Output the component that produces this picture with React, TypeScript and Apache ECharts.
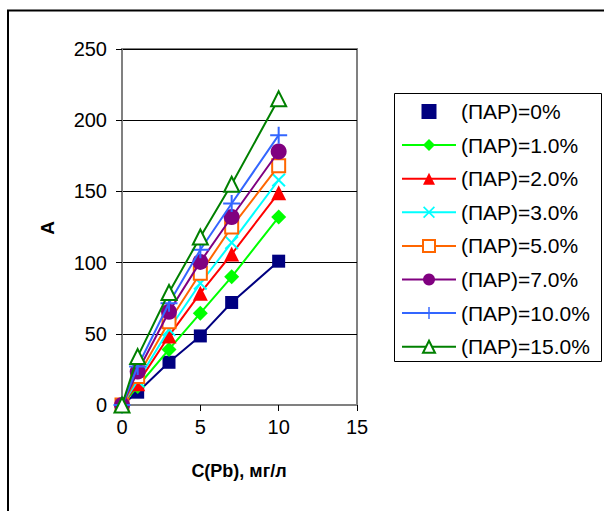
import React, { useEffect, useRef } from "react";
import * as echarts from "echarts";

const xValues = [0, 1, 3, 5, 7, 10];
const seriesNames = [
  "(ПАР)=0%",
  "(ПАР)=1.0%",
  "(ПАР)=2.0%",
  "(ПАР)=3.0%",
  "(ПАР)=5.0%",
  "(ПАР)=7.0%",
  "(ПАР)=10.0%",
  "(ПАР)=15.0%",
];
const s0 = [0, 9, 30, 48.5, 72, 101];
const s1 = [0, 13, 39, 64.5, 90, 132];
const s2 = [0, 15, 48.5, 78.5, 106, 149];
const s3 = [0, 17, 53, 85.5, 114, 158];
const s4 = [0, 20, 58.5, 92.5, 125, 168];
const s5 = [0, 23.5, 65.5, 100.5, 132, 178];
const s6 = [0, 27, 71.5, 109, 141.5, 189.5];
const s7 = [0, 34, 79, 118, 155, 215];
const seriesValues = [s0, s1, s2, s3, s4, s5, s6, s7];
const xTicks = { min: 0, max: 15, interval: 5 };
const yTicks = { min: 0, max: 250, interval: 50 };

const X_PATH = "path://M0,1L1,0L5,4L9,0L10,1L6,5L10,9L9,10L5,6L1,10L0,9L4,5Z";
const PLUS_PATH = "path://M4.4,0H5.6V4.4H10V5.6H5.6V10H4.4V5.6H0V4.4H4.4Z";

const styles = [
  { color: "#000080", symbol: "rect", size: 13, fill: "#000080" },
  { color: "#00FF00", symbol: "diamond", size: 15, fill: "#00FF00" },
  { color: "#FF0000", symbol: "triangle", size: 15, fill: "#FF0000" },
  { color: "#00FFFF", symbol: X_PATH, size: 14, fill: "#00FFFF" },
  { color: "#FF6600", symbol: "rect", size: 13, fill: "#FFFFFF", border: 2 },
  { color: "#800080", symbol: "circle", size: 16, fill: "#800080" },
  { color: "#3366FF", symbol: PLUS_PATH, size: 17, fill: "#3366FF" },
  { color: "#008000", symbol: "triangle", size: 15, fill: "#FFFFFF", border: 2 },
];

export default function App() {
  const ref = useRef<HTMLDivElement>(null);
  useEffect(() => {
    document.body.style.margin = "0";
    const chart = echarts.init(ref.current!, null, { renderer: "svg" });
    const font = "Arial, 'Liberation Sans', sans-serif";
    const series = seriesValues.map((vals, i) => {
      const st = styles[i];
      return {
        name: seriesNames[i],
        type: "line",
        data: vals.map((v, j) => [xValues[j], v]),
        symbol: st.symbol,
        symbolSize: st.size,
        lineStyle: { color: st.color, width: 2 },
        itemStyle: {
          color: st.fill,
          borderColor: st.color,
          borderWidth: st.border || 0,
        },
        z: 2 + i,
      };
    });
    chart.setOption({
      animation: false,
      backgroundColor: "#FFFFFF",
      grid: { left: 122, top: 49, right: 247, bottom: 106, show: true, borderColor: "#808080", borderWidth: 2 },
      xAxis: {
        type: "value",
        min: xTicks.min,
        max: xTicks.max,
        interval: xTicks.interval,
        axisLine: { show: true, onZero: false, lineStyle: { color: "#808080", width: 2 } },
        axisTick: { show: true, length: 6, lineStyle: { color: "#000000" } },
        axisLabel: { color: "#000000", fontSize: 20, fontFamily: font, margin: 12 },
        splitLine: { show: false },
      },
      yAxis: {
        type: "value",
        min: yTicks.min,
        max: yTicks.max,
        interval: yTicks.interval,
        axisLine: { show: true, lineStyle: { color: "#808080", width: 2 } },
        axisTick: { show: true, length: 6, lineStyle: { color: "#000000" } },
        axisLabel: { color: "#000000", fontSize: 20, fontFamily: font, margin: 15 },
        splitLine: { show: true, lineStyle: { color: "#000000", width: 1 } },
      },
      legend: {
        orient: "vertical",
        left: 401,
        top: 101,
        padding: 0,
        itemWidth: 54,
        itemHeight: 15,
        itemGap: 12.6,
        textStyle: { color: "#000000", fontSize: 21, fontFamily: font, lineHeight: 21 },
        data: seriesNames.map((n, i) =>
          i === 0 ? { name: n, icon: "path://M0,0H1V1H0Z", itemStyle: { color: "#000080" } } : { name: n }
        ),
      },
      graphic: [
        {
          type: "rect",
          shape: { x: 8, y: 10.5, width: 700, height: 600 },
          style: { fill: "none", stroke: "#000000", lineWidth: 2 },
          silent: true,
        },
        {
          type: "rect",
          shape: { x: 394.5, y: 93.5, width: 207, height: 268 },
          style: { fill: "none", stroke: "#000000", lineWidth: 1 },
          silent: true,
        },
        {
          type: "text",
          x: 239,
          y: 471,
          style: { text: "C(Pb), мг/л", fill: "#000000", font: `bold 18px ${font}`, align: "center", verticalAlign: "middle" },
        },
        {
          type: "text",
          x: 47,
          y: 228,
          rotation: Math.PI / 2,
          style: { text: "А", fill: "#000000", font: `bold 19px ${font}`, align: "center", verticalAlign: "middle" },
        },
      ],
      series,
    });
    return () => chart.dispose();
  }, []);
  return <div ref={ref} style={{ width: 604, height: 511, position: "absolute", left: 0, top: 0 }} />;
}
